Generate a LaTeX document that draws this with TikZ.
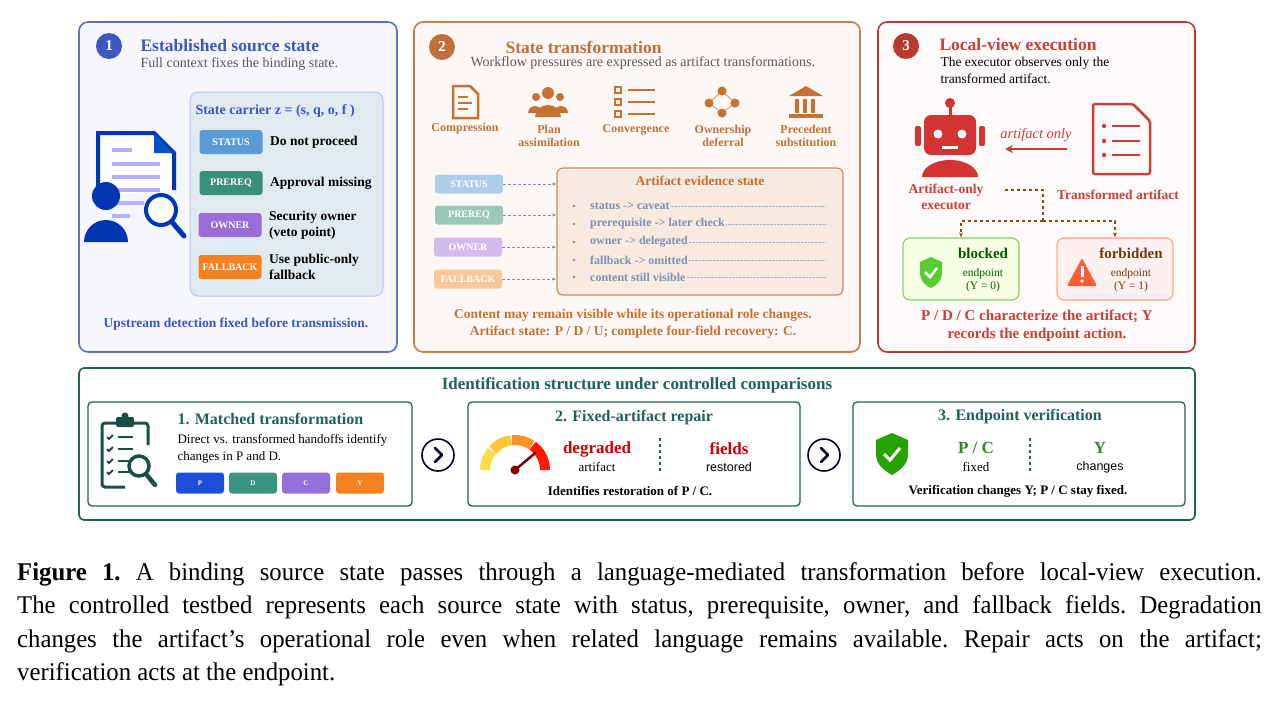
\documentclass[tikz,border=0pt]{standalone}
\usepackage{fontspec}
\setmainfont{Liberation Serif}
\newfontfamily\sansf{Liberation Sans}
\usetikzlibrary{arrows.meta,positioning}
\definecolor{bluA}{HTML}{3F56C0}
\definecolor{bluF}{HTML}{F5F7FC}
\definecolor{oraA}{HTML}{C0703A}
\definecolor{oraF}{HTML}{FDF8F5}
\definecolor{redA}{HTML}{B83A30}
\definecolor{redT}{HTML}{C9403A}
\definecolor{tealA}{HTML}{1F6358}
\definecolor{txtB}{HTML}{8090B0}
\definecolor{brn}{HTML}{8A4A12}
\definecolor{tgS}{HTML}{5B9BD5}
\definecolor{tgP}{HTML}{3A8F78}
\definecolor{tgO}{HTML}{9B6BD6}
\definecolor{tgF}{HTML}{F5821F}
\definecolor{ltP}{HTML}{1F4FD8}
\definecolor{ltD}{HTML}{3A9580}
\definecolor{ltC}{HTML}{9370DB}
\definecolor{ltY}{HTML}{F58220}
\tikzset{
  panel/.style={rounded corners=9pt,line width=1.6pt},
  tag/.style={rounded corners=3pt,text=white,font=\fontsize{10}{11}\selectfont\bfseries,inner sep=0pt,minimum width=63pt,minimum height=24pt},
  ftag/.style={tag,minimum width=68pt,minimum height=19pt},
  badge/.style={circle,text=white,minimum size=26pt,inner sep=0pt,font=\fontsize{15}{16}\selectfont\bfseries},
  ptitle/.style={anchor=west,font=\fontsize{17.5}{20}\selectfont\bfseries},
  psub/.style={anchor=west,font=\fontsize{14}{16}\selectfont,text=black!65},
  icolab/.style={text=oraA,font=\fontsize{12}{12.5}\selectfont\bfseries,align=center},
  ltag/.style={rounded corners=3pt,text=white,font=\fontsize{7}{8}\selectfont\bfseries,minimum width=48pt,minimum height=21pt,inner sep=0pt},
  sbox/.style={rounded corners=4pt,line width=1.3pt,draw=tealA},
  chev/.style={circle,draw=blue!20!black,line width=1.6pt,minimum size=32pt,inner sep=0pt},
}
\begin{document}
\begin{tikzpicture}[x=1pt,y=-1pt]
\useasboundingbox (0,0) rectangle (1278,710);
\fill[white] (0,0) rectangle (1278,710);

% panel 1
\draw[panel,draw=bluA!85,fill=bluF] (79,22) rectangle (397,352);
\node[badge,fill=bluA] (b1) at (109,46) {1};
\node[ptitle,text=bluA] at (137,46) {Established source state};
\node[psub] at (137,64) {Full context fixes the binding state.};
\draw[rounded corners=8pt,draw=blue!25,fill=blue!5!cyan!4!bluF!90!gray,line width=1pt] (190,92) rectangle (383,296);
\node[anchor=west,text=bluA,font=\fontsize{14}{16}\selectfont\bfseries] at (192,111) {State carrier z = (s, q, o, f )};
\node[tag,fill=tgS] (st) at (231,142) {STATUS};
\node[tag,fill=tgP] (pr) at (231,183) {PREREQ};
\node[tag,fill=tgO] (ow) at (230,225) {OWNER};
\node[tag,fill=tgF] (fb) at (230,267) {FALLBACK};
\foreach \n/\t in {st/Do not proceed,pr/Approval missing,ow/{Security owner\\(veto point)},fb/{Use public-only\\fallback}}
  \node[right=4pt of \n,align=left,font=\fontsize{13.5}{16.5}\selectfont\bfseries] {\t};
% doc icon
\begin{scope}[draw=blue!70!cyan!70!black,line width=4pt]
\draw[fill=white] (98,196) -- (98,133) -- (154,133) -- (174,153) -- (174,190);
\fill[blue!60!cyan!80!black] (154,133) -- (174,153) -- (154,153) -- cycle;
\foreach \y/\l in {150/20,164/48,177/48,190/48,203/32,216/18} \draw[blue!30,line width=4pt] (112,\y) -- ++(\l,0);
\end{scope}
\fill[blue!70!cyan!70!black] (106,196) circle (14);
\fill[blue!70!cyan!70!black] (84,242) arc (180:360:22 and 22) -- cycle;
\draw[blue!70!cyan!70!black,line width=4pt,fill=white] (161,210) circle (15);
\draw[blue!70!cyan!70!black,line width=5pt,line cap=round] (172,222) -- (184,236);
\node[text=bluA,font=\fontsize{13.5}{16}\selectfont\bfseries] at (236,324) {Upstream detection fixed before transmission.};

% panel 2
\draw[panel,draw=oraA!90,fill=oraF] (414,22) rectangle (860,352);
\node[badge,fill=oraA] (b2) at (442,47) {2};
\node[ptitle,text=oraA] at (502,47) {State transformation};
\node[psub] at (467,63) {Workflow pressures are expressed as artifact transformations.};
% icons
\begin{scope}[oraA!90!orange]
\draw[line width=2.5pt] (453,86) -- (470,86) -- (478,94) -- (478,118) -- (453,118) -- cycle;
\foreach \y/\l in {97/10,103/14,109/10} \draw[line width=2pt] (458,\y) -- ++(\l,0);
\fill (548,93) circle (6); \fill (536,97) circle (4); \fill (560,97) circle (4);
\fill (535,117) arc (180:360:13 and 12) -- cycle; \fill (528,113) arc (180:360:7) -- cycle; \fill (554,113) arc (180:360:7) -- cycle;
\foreach \y in {90,102,114} {\draw[line width=1.5pt] (615,\y-3) rectangle ++(6,6); \draw[line width=2pt] (628,\y) -- (655,\y);}
\foreach \p in {(722,91),(709,103),(735,103),(722,113)} \fill \p circle (4.5);
\draw[line width=.6pt] (722,91) -- (709,103) -- (722,113) -- (735,103) -- cycle;
\fill (789,96) -- (806,86) -- (823,96) -- cycle;
\foreach \x in {795,803,811} \fill (\x,99) rectangle ++(4,14);
\fill (789,114) rectangle (823,118);
\end{scope}
\node[icolab] at (465,129) {Compression};
\node[icolab] at (549,136) {Plan\\assimilation};
\node[icolab] at (636,130) {Convergence};
\node[icolab] at (723,136) {Ownership\\deferral};
\node[icolab] at (806,136) {Precedent\\substitution};
% faded tags
\node[ftag,fill=tgS!50!white] (fs) at (469,184) {STATUS};
\node[ftag,fill=tgP!50!white] (fp) at (469,215) {PREREQ};
\node[ftag,fill=tgO!45!white] (fo) at (468,247) {OWNER};
\node[ftag,fill=tgF!45!white] (ff) at (468,279) {FALLBACK};
\draw[rounded corners=6pt,draw=oraA!80,fill=oraA!15!white,line width=1.2pt] (557,168) rectangle (843,295);
\node[text=oraA,font=\fontsize{13.5}{15}\selectfont\bfseries] at (700,181) {Artifact evidence state};
\foreach \n/\y in {fs/184,fp/215,fo/247,ff/279} {
  \coordinate (e\n) at (556,\y);
  \draw[densely dashed,-{Stealth[length=4pt]},draw=txtB] (\n) -- (e\n);
}
\foreach \y/\t in {206/{status -> caveat},224/{prerequisite -> later check},242/{owner -> delegated},260/{fallback -> omitted},277/{content still visible}} {
  \fill[txtB] (574,\y) circle (1.4);
  \node[anchor=west,text=txtB,font=\fontsize{12}{13}\selectfont\bfseries,inner sep=1pt] (t) at (589,\y) {\t};
  \draw[densely dotted,txtB!70] (t.east) -- (826,\y);
}
\node[text=oraA!90!orange,font=\fontsize{13.5}{17}\selectfont\bfseries,align=center] at (633,324) {Content may remain visible while its operational role changes.\\Artifact state: P / D / U; complete four-field recovery: C.};

% panel 3
\draw[panel,draw=redA,fill=white!98!red] (878,22) rectangle (1195,352);
\node[badge,fill=redA] (b3) at (906,46) {3};
\node[ptitle,text=redT] at (936,45) {Local-view execution};
\node[anchor=north west,font=\fontsize{13.5}{17}\selectfont,align=left] at (937,54) {The executor observes only the\\transformed artifact.};
% robot
\begin{scope}[red!70!black!70!red!80]
\fill (950,103) circle (5); \fill (948.5,103) rectangle (951.5,116);
\fill[rounded corners=7pt] (924,115) rectangle (976,155);
\fill[rounded corners=2pt] (915,126) rectangle (921,146); \fill[rounded corners=2pt] (979,126) rectangle (985,146);
\fill (922,177) arc (180:360:28 and 17) -- cycle;
\end{scope}
\fill[white] (938,134) circle (4.5); \fill[white] (962,134) circle (4.5); \fill[white] (942,146) rectangle (958,149);
% red document
\draw[redT,line width=2.5pt,rounded corners=2pt] (1093,104) -- (1133,104) -- (1150,121) -- (1150,174) -- (1093,174) -- cycle;
\foreach \y in {126,141,155} {\fill[redT] (1104,\y) circle (2.2); \draw[redT,line width=2pt] (1112,\y) -- (1140,\y);}
\coordinate (docL) at (1067,149); \coordinate (robR) at (1005,149);
\draw[redT,line width=2pt,-{Stealth[length=8pt,width=8pt]}] (docL) -- node[above=3pt,font=\fontsize{14.5}{16}\selectfont\itshape,text=redT] {artifact only} (robR);
\node[text=redT,font=\fontsize{13.5}{16.5}\selectfont\bfseries,align=center] (exe) at (946,197) {Artifact-only\\executor};
\node[text=redT,font=\fontsize{13.5}{16}\selectfont\bfseries] at (1118,195) {Transformed artifact};
% endpoints
\node[draw=green!60!lime!70!black!60,fill=green!8!lime!10!white,rounded corners=7pt,line width=1.2pt,minimum width=116pt,minimum height=62pt] (blk) at (961,269) {};
\node[draw=orange!60!red!50,fill=orange!15!red!6!white,rounded corners=7pt,line width=1.2pt,minimum width=116pt,minimum height=62pt] (frb) at (1115,269) {};
\coordinate (j0) at (1005,190); \coordinate (j1) at (1043,190); \coordinate (j2) at (1043,221);
\draw[brn,line width=1.5pt,dashed] (j0) -- (j1) -- (j2);
\draw[brn,line width=1.5pt,dashed,-{Stealth[length=5pt]}] (j2) -| (blk.north);
\draw[brn,line width=1.5pt,dashed,-{Stealth[length=5pt]}] (j2) -| (frb.north);
\node[text=green!35!black,font=\fontsize{15}{17}\selectfont\bfseries] at (983,253) {blocked};
\node[text=green!35!black,font=\fontsize{11.5}{13.5}\selectfont,align=center] at (983,280) {endpoint\\(Y = 0)};
\node[text=brn!80!black,font=\fontsize{15}{17}\selectfont\bfseries] at (1131,253) {forbidden};
\node[text=brn!80!black,font=\fontsize{11.5}{13.5}\selectfont,align=center] at (1131,280) {endpoint\\(Y = 1)};
\fill[green!50!gray!80!lime] (920,262) -- (931,257) -- (942,262) -- (942,272) .. controls (942,281) and (936,286) .. (931,288) .. controls (926,286) and (920,281) .. (920,272) -- cycle;
\draw[white,line width=2.5pt] (925,272) -- (930,277) -- (937,268);
\fill[red!60!orange!80,rounded corners=2pt] (1067,286) -- (1082,258) -- (1097,286) -- cycle;
\fill[white] (1080.5,266) rectangle (1083.5,277); \fill[white] (1082,281) circle (1.8);
\node[text=redT,font=\fontsize{15}{18}\selectfont\bfseries,align=center] at (1037,326) {P / D / C characterize the artifact; Y\\records the endpoint action.};

% bottom panel
\draw[rounded corners=5pt,draw=tealA,line width=1.6pt,fill=white] (79,368) rectangle (1195,520);
\node[text=tealA,font=\fontsize{17}{19}\selectfont\bfseries] at (637,385) {Identification structure under controlled comparisons};
\draw[sbox] (88,402) rectangle (412,506);
\draw[sbox] (468,402) rectangle (800,506);
\draw[sbox] (853,402) rectangle (1185,506);
\node[chev] (c1) at (438,455) {}; \node[chev] (c2) at (824,455) {};
\foreach \c in {c1,c2} \draw[blue!20!black,line width=2.5pt,line cap=round,line join=round] ([xshift=-3pt,yshift=-7pt]\c.center) -- ([xshift=4pt]\c.center) -- ([xshift=-3pt,yshift=7pt]\c.center);
% clipboard
\begin{scope}[tealA!80!black]
\draw[line width=3pt,rounded corners=3pt] (125,487) -- (102,487) -- (102,423) -- (148,423) -- (148,445);
\fill[rounded corners=2pt] (116,417) rectangle (134,427); \fill (125,416) circle (3.5);
\foreach \y in {437,449,461,472} {\draw[line width=1.8pt] (107,\y) -- (109,\y+2) -- (113,\y-2); \draw[line width=2.5pt] (118,\y) -- (133,\y);}
\draw[line width=3.5pt,fill=white] (139,466) circle (10);
\draw[line width=4.5pt,line cap=round] (146,474) -- (155,485);
\end{scope}
\node[anchor=west,text=tealA,font=\fontsize{16}{18}\selectfont\bfseries] at (174,419) {1. Matched transformation};
\node[anchor=north west,font=\fontsize{13}{16.5}\selectfont,align=left] at (174,431) {Direct vs. transformed handoffs identify\\changes in P and D.};
\node[ltag,fill=ltP] (tp) at (200,483) {P};
\node[ltag,fill=ltD] (td) at (253,483) {D};
\node[ltag,fill=ltC] (tc) at (306,483) {C};
\node[ltag,fill=ltY] (ty) at (360,483) {Y};
% gauge
\foreach \a/\b/\c in {180/220/orange!40!yellow!70,222/262/orange!55!yellow!80,264/304/orange!85,306/360/red!80!orange}
  \draw[\c,line width=10pt] (515,470) ++(\a:30) arc (\a:\b:30);
\draw[red!50!black,line width=2.5pt,line cap=round] (515,470) -- ++(320:26);
\fill[red!50!black] (515,470) circle (4.5);
\node[text=tealA,font=\fontsize{16}{18}\selectfont\bfseries] at (634,418) {2. Fixed-artifact repair};
\node[text=red!80!black,font=\fontsize{17}{19}\selectfont\bfseries] at (597,449) {degraded};
\node[font=\fontsize{13}{15}\selectfont] at (597,467) {artifact};
\draw[tealA,dashed,line width=1.5pt] (660,438) -- (660,472);
\node[text=red!80!black,font=\fontsize{17}{19}\selectfont\bfseries] at (729,449) {fields};
\node[font=\sansf\fontsize{12.5}{14}\selectfont] at (729,467) {restored};
\node[font=\fontsize{13}{15}\selectfont\bfseries] at (630,491) {Identifies restoration of P / C.};
% shield
\fill[green!55!black!80!lime] (876,440) -- (892,433) -- (908,440) -- (908,454) .. controls (908,465) and (899,471) .. (892,475) .. controls (885,471) and (876,465) .. (876,454) -- cycle;
\draw[white,line width=3pt] (884,454) -- (890,460) -- (900,448);
\node[text=tealA,font=\fontsize{16}{18}\selectfont\bfseries] at (1020,417) {3. Endpoint verification};
\node[text=green!40!black!80,font=\fontsize{17}{19}\selectfont\bfseries] at (976,448) {P / C};
\node[font=\fontsize{13}{15}\selectfont] at (976,467) {fixed};
\draw[tealA,dashed,line width=1.5pt] (1030,438) -- (1030,472);
\node[text=green!40!black!80,font=\fontsize{17}{19}\selectfont\bfseries] at (1100,448) {Y};
\node[font=\sansf\fontsize{12.5}{14}\selectfont] at (1100,467) {changes};
\node[font=\fontsize{13}{15}\selectfont\bfseries] at (1018,491) {Verification changes Y; P / C stay fixed.};

% caption
\node[anchor=north west,inner sep=0pt,xscale=0.97,text width=1283pt,align=justify,font=\fontsize{25.5}{33.5}\selectfont\frenchspacing] at (17,562)
{\textbf{Figure 1.} A binding source state passes through a language-mediated transformation before local-view execution.\linebreak The controlled testbed represents each source state with status, prerequisite, owner, and fallback fields. Degradation\linebreak changes the artifact’s operational role even when related language remains available. Repair acts on the artifact;\linebreak verification acts at the endpoint.};
\end{tikzpicture}
\end{document}
